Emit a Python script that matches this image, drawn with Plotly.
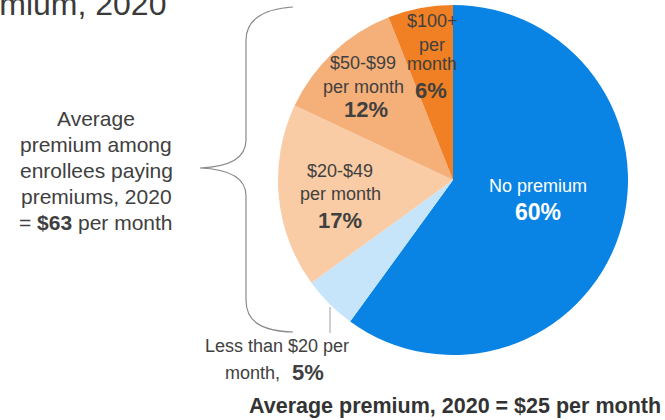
import plotly.graph_objects as go

# Share of enrollees by monthly premium, 2020
categories = ["No premium", "Less than $20 per month", "$20-$49 per month",
              "$50-$99 per month", "$100+ per month"]
shares = [60, 5, 17, 12, 6]
colors = ["#0A84E4", "#C6E4FA", "#F9CCA5", "#F5B07A", "#F08023"]

avg_all = 25
avg_paying = 63

W, H = 665, 420
FONT = "Arial, Liberation Sans, sans-serif"
DARK = "#404040"
LINE = "#8A8A8A"


def px(x):
    return x / W


def py(y):
    return 1 - y / H


# pie placed by pixel centre and radius
cx, cy, r = 453, 180, 175

fig = go.Figure(go.Pie(
    labels=categories,
    values=shares,
    sort=False,
    direction="clockwise",
    rotation=0,
    marker=dict(colors=colors, line=dict(width=0)),
    textinfo="none",
    hoverinfo="label+percent",
    showlegend=False,
    domain=dict(x=[px(cx - r), px(cx + r)], y=[py(cy + r), py(cy - r)]),
))

ann = []


def label(text, x, y, size=18, color=DARK, bold=False, xanchor="center"):
    ann.append(dict(
        text=f"<b>{text}</b>" if bold else text,
        x=px(x), y=py(y), xref="paper", yref="paper",
        xanchor=xanchor, yanchor="middle", showarrow=False,
        font=dict(family=FONT, size=size, color=color),
    ))


# slice labels
label("No premium", 538, 186, 18, "white")
label(f"{shares[0]}%", 538, 212, 23, "white", bold=True)

label("$20-$49", 340, 171)
label("per month", 340, 194)
label(f"{shares[2]}%", 340, 220, 22, bold=True)

label("$50-$99", 363, 63)
label("per month", 363, 87)
label(f"{shares[3]}%", 366, 110, 22, bold=True)

label("$100+", 432, 21)
label("per", 432, 45)
label("month", 432, 64)
label(f"{shares[4]}%", 431, 90, 22, bold=True)

label("Less than $20 per", 277, 346)
label("month,", 252, 373)
label(f"{shares[1]}%", 308, 372, 22, bold=True)

# left-hand note
note_lines = ["Average", "premium among", "enrollees paying", "premiums, 2020",
              f"= <b>${avg_paying}</b> per month"]
for i, t in enumerate(note_lines):
    label(t, 96, 118 + i * 26, 21)

# heading (extends past the left edge)
label("premium, 2020", 168, 4, 32, "#3A3A3A", xanchor="right")

# footer
label(f"Average premium, 2020 = ${avg_all} per month", 455, 406, 21.5,
      "#333333", bold=True)

# curly brace grouping the paying categories
brace = [
    (293, 7), (260, 9), (246, 22), (246, 40),
    (246, 140), (246, 160), (225, 167), (200, 168),
    (225, 169), (246, 176), (246, 196),
    (246, 300), (246, 322), (262, 331), (293, 332),
]


def brace_path(pts):
    p = f"M {px(pts[0][0])},{py(pts[0][1])}"
    i = 1
    segs = [("C", 3), ("L", 1), ("C", 3), ("C", 3), ("L", 1), ("C", 3)]
    for kind, n in segs:
        chunk = pts[i:i + n]
        p += f" {kind} " + " ".join(f"{px(x)},{py(y)}" for x, y in chunk)
        i += n
    return p


shapes = [
    dict(type="path", path=brace_path(brace), xref="paper", yref="paper",
         line=dict(color=LINE, width=1.2)),
    dict(type="line", x0=px(330), x1=px(330), y0=py(307), y1=py(333),
         xref="paper", yref="paper", line=dict(color="#A0A0A0", width=1)),
]

fig.update_layout(
    width=W, height=H,
    margin=dict(l=0, r=0, t=0, b=0),
    paper_bgcolor="white",
    plot_bgcolor="white",
    annotations=ann,
    shapes=shapes,
)

fig.write_html("out.html")
